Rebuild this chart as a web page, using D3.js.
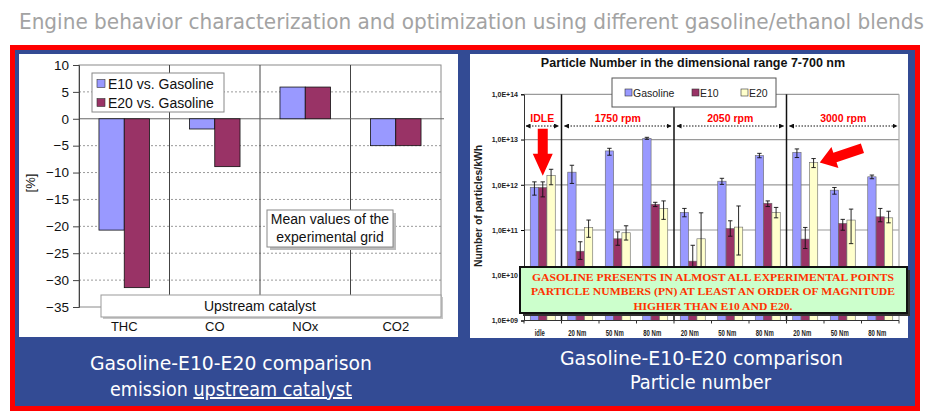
<!DOCTYPE html>
<html><head><meta charset="utf-8">
<script src="https://cdn.jsdelivr.net/npm/d3@7"></script>
<style>body{margin:0;background:#fff}svg{display:block}</style>
</head><body>
<svg id="c" width="950" height="417"></svg>
<script>
// ---------------- DATA ----------------
const pageTitle = "Engine behavior characterization and optimization using different gasoline/ethanol blends";
const leftCaption = ["Gasoline-E10-E20 comparison", "emission ", "upstream catalyst"];
const rightCaption = ["Gasoline-E10-E20 comparison", "Particle number"];

// Left chart: emissions upstream catalyst, % change vs gasoline
const leftCategories = ["THC", "CO", "NOx", "CO2"];
const leftSeries = ["E10 vs. Gasoline", "E20 vs. Gasoline"];
const e10VsGasoline = [-20.7, -1.9, 5.9, -5.0];
const e20VsGasoline = [-31.4, -8.9, 5.9, -5.0];
const leftYTicks = [10, 5, 0, -5, -10, -15, -20, -25, -30, -35];
const leftYLabel = "[%]";
const leftNote = ["Mean values of the", "experimental grid"];
const leftAxisTitle = "Upstream catalyst";

// Right chart: particle number (log scale)
const pnTitle = "Particle Number in the dimensional range 7-700 nm";
const pnCategories = ["idle", "20 Nm", "50 Nm", "80 Nm", "20 Nm", "50 Nm", "80 Nm", "20 Nm", "50 Nm", "80 Nm"];
const pnSeries = ["Gasoline", "E10", "E20"];
const gasolinePN     = [8.8e11, 1.9e12, 5.6e12, 1.06e13, 2.45e11, 1.2e12, 4.4e12, 5.2e12, 7.6e11, 1.5e12];
const gasolineLow    = [5.9e11, 1.07e12, 4.5e12, 1.01e13, 1.96e11, 1.02e12, 3.96e12, 4.0e12, 6.2e11, 1.36e12];
const gasolineHigh   = [1.16e12, 2.7e12, 6.4e12, 1.12e13, 3.0e11, 1.39e12, 4.95e12, 6.2e12, 8.7e11, 1.64e12];
const e10PN          = [8.7e11, 3.4e10, 6.4e10, 3.7e11, 2.05e10, 1.08e11, 3.9e11, 6.3e10, 1.4e11, 1.96e11];
const e10Low         = [5.4e11, 2.24e10, 4.6e10, 3.3e11, 1.5e10, 7.3e10, 3.3e11, 3.9e10, 9.9e10, 1.52e11];
const e10High        = [1.16e12, 5.5e10, 9.1e10, 4.1e11, 4.6e10, 1.6e11, 4.4e11, 1.14e11, 1.72e11, 3.0e11];
const e20PN          = [1.6e12, 1.14e11, 8.7e10, 3.0e11, 6.4e10, 1.16e11, 2.45e11, 3.1e12, 1.66e11, 1.86e11];
const e20Low         = [1.0e12, 6.9e10, 6.0e10, 1.72e11, 1.3e10, 2.8e10, 1.86e11, 2.4e12, 5.0e10, 1.44e11];
const e20High        = [2.2e12, 1.66e11, 1.24e11, 4.4e11, 2.4e11, 3.4e11, 3.16e11, 3.8e12, 2.9e11, 2.6e11];
const pnTickValues = [1e9, 1e10, 1e11, 1e12, 1e13, 1e14];
const pnTickLabels = ["1,0E+09", "1,0E+10", "1,0E+11", "1,0E+12", "1,0E+13", "1,0E+14"];
const pnYLabel = "Number of particles/kWh";
const speedLabels = ["IDLE", "1750 rpm", "2050 rpm", "3000 rpm"];
const speedStart = [0, 1, 4, 7];
const speedEnd = [1, 4, 7, 10];
const pnNote = ["GASOLINE PRESENTS IN ALMOST ALL EXPERIMENTAL POINTS",
                "PARTICLE NUMBERS (PN)  AT LEAST AN ORDER OF MAGNITUDE",
                "HIGHER THAN E10 AND E20."];

// ---------------- DRAW ----------------
const svg = d3.select("#c");
const SANS = "'Liberation Sans', Arial, sans-serif";
const HAND = "'Liberation Sans Narrow','DejaVu Sans Condensed','Open Sans',sans-serif";

// page title
svg.append("text").attr("x", 19).attr("y", 29)
  .attr("font-family", HAND).attr("font-size", 22).attr("fill", "#a3a3a3")
  .attr("textLength", 905).attr("lengthAdjust", "spacingAndGlyphs")
  .text(pageTitle);

// frame
svg.append("rect").attr("x", 10).attr("y", 45).attr("width", 910).attr("height", 366).attr("fill", "#ff0000");
svg.append("rect").attr("x", 15).attr("y", 50).attr("width", 900).attr("height", 356).attr("fill", "#334b94");
svg.append("rect").attr("x", 19).attr("y", 54).attr("width", 439).attr("height", 283).attr("fill", "#fff");
svg.append("rect").attr("x", 470).attr("y", 54).attr("width", 438).attr("height", 284).attr("fill", "#fff");

// captions
function caption(x, y, w, parts, underlineIdx) {
  const t = svg.append("text").attr("x", x).attr("y", y)
    .attr("font-family", HAND).attr("font-size", 20).attr("fill", "#fff")
    .attr("textLength", w).attr("lengthAdjust", "spacingAndGlyphs");
  parts.forEach((p, i) => {
    const ts = t.append("tspan").text(p);
    if (i === underlineIdx) ts.attr("text-decoration", "underline");
  });
}
caption(90, 370, 282, [leftCaption[0]], -1);
caption(110, 396, 242, [leftCaption[1], leftCaption[2]], 1);
caption(560, 365, 283, [rightCaption[0]], -1);
caption(630, 389, 141, [rightCaption[1]], -1);

// ================= LEFT CHART =================
const L = {x0: 79, x1: 441, y0: 65, y1: 307};
const ly = d3.scaleLinear().domain([-35, 10]).range([L.y1, L.y0]);
const lx = d3.scaleBand().domain(leftCategories).range([L.x0, L.x1]);
const lxs = d3.scaleBand().domain(leftSeries).range([0, lx.bandwidth()]).paddingOuter(0.79);
const leftColors = {"E10 vs. Gasoline": "#9999ff", "E20 vs. Gasoline": "#993366"};
const leftData = leftCategories.map((c, i) => ({c, vals: [e10VsGasoline[i], e20VsGasoline[i]]}));

const lg = svg.append("g");
lg.selectAll("line.grid").data(leftYTicks.filter(v => v !== 10 && v !== -35 && v !== 0)).join("line")
  .attr("x1", L.x0).attr("x2", L.x1).attr("y1", d => ly(d)).attr("y2", d => ly(d))
  .attr("stroke", "#9a9a9a").attr("stroke-dasharray", "2,2").attr("stroke-width", 1);
lg.append("rect").attr("x", L.x0).attr("y", L.y0).attr("width", L.x1 - L.x0).attr("height", L.y1 - L.y0)
  .attr("fill", "none").attr("stroke", "#8a8a8a");
lg.selectAll("line.div").data(leftCategories.slice(1)).join("line")
  .attr("x1", d => lx(d)).attr("x2", d => lx(d)).attr("y1", L.y0).attr("y2", L.y1)
  .attr("stroke", "#444").attr("stroke-width", 1);
lg.append("line").attr("x1", L.x0).attr("x2", L.x1 + 3).attr("y1", ly(0)).attr("y2", ly(0))
  .attr("stroke", "#666").attr("stroke-width", 1);
leftData.forEach(d => {
  d.vals.forEach((v, j) => {
    const s = leftSeries[j];
    lg.append("rect")
      .attr("x", lx(d.c) + lxs(s)).attr("width", lxs.bandwidth())
      .attr("y", ly(Math.max(0, v))).attr("height", Math.abs(ly(v) - ly(0)))
      .attr("fill", leftColors[s]).attr("stroke", "#111").attr("stroke-width", 0.8);
  });
});
const lyAxis = d3.axisLeft(ly).tickValues(leftYTicks).tickSize(6).tickPadding(4).tickFormat(d3.format("d"));
const lya = lg.append("g").attr("transform", `translate(${L.x0},0)`).call(lyAxis);
lya.select(".domain").attr("stroke", "#444");
lya.selectAll(".tick line").attr("stroke", "#444");
lya.selectAll("text").attr("font-family", SANS).attr("font-size", 13.5).attr("fill", "#111");
lg.append("text").attr("transform", `translate(35,183) rotate(-90)`).attr("text-anchor", "middle")
  .attr("font-family", SANS).attr("font-size", 13).attr("fill", "#111").text(leftYLabel);
lg.selectAll("text.cat").data(leftCategories).join("text")
  .attr("x", d => lx(d) + lx.bandwidth() / 2).attr("y", 331).attr("text-anchor", "middle")
  .attr("font-family", SANS).attr("font-size", 13).attr("fill", "#111").text(d => d);
lg.append("rect").attr("x", 92).attr("y", 73).attr("width", 132).attr("height", 39)
  .attr("fill", "#fff").attr("stroke", "#888");
leftSeries.forEach((s, i) => {
  const cy = 83.5 + i * 19;
  lg.append("rect").attr("x", 97).attr("y", cy - 4).attr("width", 8).attr("height", 8)
    .attr("fill", leftColors[s]).attr("stroke", "#333").attr("stroke-width", 0.6);
  lg.append("text").attr("x", 108).attr("y", cy + 5).attr("font-family", SANS).attr("font-size", 14)
    .attr("fill", "#111").text(s);
});
lg.append("rect").attr("x", 270).attr("y", 213).attr("width", 126).attr("height", 37).attr("fill", "#bbb");
lg.append("rect").attr("x", 267).attr("y", 210).attr("width", 126).attr("height", 37)
  .attr("fill", "#fff").attr("stroke", "#888");
leftNote.forEach((t, i) => lg.append("text").attr("x", 330).attr("y", 224 + i * 18).attr("text-anchor", "middle")
  .attr("font-family", SANS).attr("font-size", 14).attr("fill", "#111").text(t));
lg.append("rect").attr("x", 103).attr("y", 297).attr("width", 340).attr("height", 22).attr("fill", "#c8c8c8");
lg.append("rect").attr("x", 101).attr("y", 295).attr("width", 340).attr("height", 22)
  .attr("fill", "#fff").attr("stroke", "#999");
lg.append("text").attr("x", 260).attr("y", 311).attr("text-anchor", "middle")
  .attr("font-family", SANS).attr("font-size", 14).attr("fill", "#111").text(leftAxisTitle);

// ================= RIGHT CHART =================
const R = {x0: 524, x1: 899, y0: 94.3, y1: 320.5};
const ry = d3.scaleLog().domain([1e9, 1e14]).range([R.y1, R.y0]);
const rx = d3.scaleBand().domain(d3.range(pnCategories.length)).range([R.x0, R.x1]);
const rxs = d3.scaleBand().domain(pnSeries).range([0, rx.bandwidth()]).paddingOuter(0.75);
const pnColors = {"Gasoline": "#9999ff", "E10": "#993366", "E20": "#ffffcc"};
const pnVals = {"Gasoline": [gasolinePN, gasolineLow, gasolineHigh], "E10": [e10PN, e10Low, e10High], "E20": [e20PN, e20Low, e20High]};

const rg = svg.append("g");
rg.append("text").attr("x", 693).attr("y", 67).attr("text-anchor", "middle")
  .attr("font-family", SANS).attr("font-size", 12.5).attr("font-weight", "bold").attr("fill", "#111").text(pnTitle);
rg.selectAll("line.grid").data(pnTickValues).join("line")
  .attr("x1", R.x0).attr("x2", R.x1).attr("y1", d => ry(d)).attr("y2", d => ry(d))
  .attr("stroke", "#9a9a9a").attr("stroke-width", 1.2);
rg.append("line").attr("x1", R.x1).attr("x2", R.x1).attr("y1", R.y0).attr("y2", R.y1).attr("stroke", "#aaa").attr("stroke-width", 1.2);
pnSeries.forEach(s => {
  const [vals] = pnVals[s];
  vals.forEach((v, i) => {
    rg.append("rect").attr("x", rx(i) + rxs(s)).attr("width", rxs.bandwidth())
      .attr("y", ry(v)).attr("height", ry(1e9) - ry(v))
      .attr("fill", pnColors[s]).attr("stroke", "#666").attr("stroke-width", 0.6);
  });
});
pnSeries.forEach(s => {
  const [vals, lo, hi] = pnVals[s];
  vals.forEach((v, i) => {
    const cx = rx(i) + rxs(s) + rxs.bandwidth() / 2;
    const eg = rg.append("g").attr("stroke", "#111").attr("stroke-width", 0.9);
    eg.append("line").attr("x1", cx).attr("x2", cx).attr("y1", ry(hi[i])).attr("y2", ry(lo[i]));
    eg.append("line").attr("x1", cx - 2.2).attr("x2", cx + 2.2).attr("y1", ry(hi[i])).attr("y2", ry(hi[i]));
    eg.append("line").attr("x1", cx - 2.2).attr("x2", cx + 2.2).attr("y1", ry(lo[i])).attr("y2", ry(lo[i]));
  });
});
rg.selectAll("line.div").data(speedStart.slice(1)).join("line")
  .attr("x1", d => rx(d)).attr("x2", d => rx(d)).attr("y1", R.y0).attr("y2", R.y1)
  .attr("stroke", "#111").attr("stroke-width", 1.5);
const ryAxis = d3.axisLeft(ry).tickValues(pnTickValues).tickSize(3).tickPadding(3)
  .tickFormat((d, i) => pnTickLabels[i]);
const rya = rg.append("g").attr("transform", `translate(${R.x0},0)`).call(ryAxis);
rya.select(".domain").attr("stroke", "#333");
rya.selectAll("text").attr("font-family", SANS).attr("font-size", 7).attr("font-weight", "bold").attr("fill", "#222");
rg.append("line").attr("x1", R.x0).attr("x2", R.x1).attr("y1", R.y1).attr("y2", R.y1).attr("stroke", "#333");
rg.selectAll("line.xt").data(d3.range(pnCategories.length + 1)).join("line")
  .attr("x1", d => R.x0 + d * rx.step()).attr("x2", d => R.x0 + d * rx.step())
  .attr("y1", R.y1).attr("y2", R.y1 + 3).attr("stroke", "#333");
rg.selectAll("text.cat").data(pnCategories).join("text")
  .attr("x", (d, i) => rx(i) + rx.bandwidth() / 2 - 3).attr("y", 336).attr("text-anchor", "middle")
  .attr("font-family", SANS).attr("font-size", 9).attr("font-weight", "bold").attr("fill", "#222")
  .attr("textLength", d => d.length > 4 ? 18 : 10).attr("lengthAdjust", "spacingAndGlyphs").text(d => d);
rg.append("text").attr("transform", `translate(482,206) rotate(-90)`).attr("text-anchor", "middle")
  .attr("font-family", SANS).attr("font-size", 10).attr("font-weight", "bold").attr("fill", "#222")
  .attr("textLength", 122).attr("lengthAdjust", "spacingAndGlyphs").text(pnYLabel);
const defs = svg.append("defs");
defs.append("marker").attr("id", "ah").attr("viewBox", "0 0 10 10").attr("refX", 9).attr("refY", 5)
  .attr("markerWidth", 5).attr("markerHeight", 5).attr("orient", "auto-start-reverse")
  .append("path").attr("d", "M0,0 L10,5 L0,10 z").attr("fill", "#111");
speedLabels.forEach((lab, k) => {
  const xa = rx(speedStart[k]) + (k === 0 ? 2 : 3);
  const xb = speedEnd[k] < pnCategories.length ? rx(speedEnd[k]) - 3 : R.x1 - 2;
  rg.append("line").attr("x1", xa).attr("x2", xb).attr("y1", 126).attr("y2", 126)
    .attr("stroke", "#111").attr("stroke-width", 1).attr("stroke-dasharray", "1.5,1.5")
    .attr("marker-start", "url(#ah)").attr("marker-end", "url(#ah)");
  rg.append("text").attr("x", (xa + xb) / 2).attr("y", 121.5).attr("text-anchor", "middle")
    .attr("font-family", SANS).attr("font-size", 10.5).attr("font-weight", "bold").attr("fill", "#ff0000").text(lab);
});
rg.append("rect").attr("x", 612).attr("y", 78).attr("width", 164).attr("height", 29)
  .attr("fill", "#fff").attr("stroke", "#555");
const legX = [625, 692, 741];
pnSeries.forEach((s, i) => {
  rg.append("rect").attr("x", legX[i]).attr("y", 89).attr("width", 7).attr("height", 7)
    .attr("fill", pnColors[s]).attr("stroke", "#333").attr("stroke-width", 0.6);
  rg.append("text").attr("x", legX[i] + 8).attr("y", 96.5).attr("font-family", SANS).attr("font-size", 10.5)
    .attr("fill", "#222").text(s);
});
function blockArrow(tipX, tipY, angleDeg, len, shaftW, headW, headL) {
  const p = [[0, 0], [-headL, -headW / 2], [-headL, -shaftW / 2], [-len, -shaftW / 2],
             [-len, shaftW / 2], [-headL, shaftW / 2], [-headL, headW / 2]];
  rg.append("polygon").attr("points", p.map(q => q.join(",")).join(" "))
    .attr("transform", `translate(${tipX},${tipY}) rotate(${angleDeg})`)
    .attr("fill", "#ff0000");
}
const idleCx = rx(0) + rxs("E10") + rxs.bandwidth() / 2;
blockArrow(idleCx, ry(e10High[0]) - 6, 90, 47, 10, 20, 22);
const arrowBarX = rx(7) + rxs("E20") + rxs.bandwidth();
blockArrow(arrowBarX + 2, ry(e20PN[7]), 161.5, 45, 10, 22, 16);
rg.append("rect").attr("x", 523).attr("y", 270).attr("width", 387).attr("height", 46).attr("fill", "#333");
rg.append("rect").attr("x", 520).attr("y", 267).attr("width", 387).attr("height", 46)
  .attr("fill", "#ccffcc").attr("stroke", "#111").attr("stroke-width", 2);
const noteW = [362, 364, 159];
pnNote.forEach((t, i) => rg.append("text").attr("x", 713).attr("y", 281 + i * 14.3).attr("text-anchor", "middle")
  .attr("font-family", "'Liberation Serif','Times New Roman',serif").attr("font-size", 11).attr("font-weight", "bold")
  .attr("fill", "#ff3300").attr("textLength", noteW[i]).attr("lengthAdjust", "spacingAndGlyphs").text(t));
</script>
</body></html>
